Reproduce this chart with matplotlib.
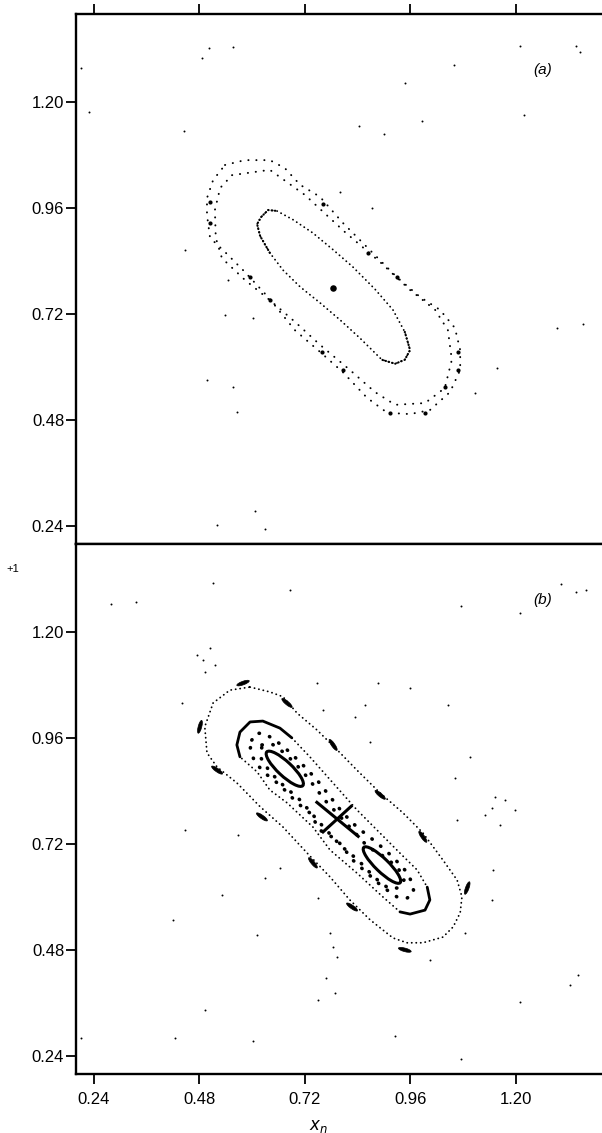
import matplotlib
matplotlib.use("Agg")
import matplotlib.pyplot as plt
from matplotlib.patches import Ellipse

plt.rcParams["font.family"] = ["Liberation Sans", "DejaVu Sans"]

ticks = [0.24, 0.48, 0.72, 0.96, 1.20]
tick_labels = ["0.24", "0.48", "0.72", "0.96", "1.20"]

# ---- panel (a) ----
# central fixed point
a_center_x = [0.785]
a_center_y = [0.780]

# inner invariant curve
a_inner_x = [0.637, 0.657, 0.694, 0.739, 0.785, 0.830, 0.880, 0.921, 0.948, 0.960, 0.948,
             0.926, 0.896, 0.846, 0.801, 0.755, 0.710, 0.671, 0.641, 0.619, 0.612, 0.621, 0.637]
a_inner_y = [0.956, 0.954, 0.934, 0.904, 0.866, 0.827, 0.777, 0.730, 0.680, 0.639, 0.617,
             0.608, 0.617, 0.666, 0.707, 0.746, 0.782, 0.820, 0.859, 0.897, 0.924, 0.940, 0.956]
# darker arcs at the two ends of the inner curve
a_cap1_x = [0.641, 0.619, 0.612, 0.621, 0.637, 0.657]
a_cap1_y = [0.859, 0.897, 0.924, 0.940, 0.956, 0.954]
a_cap2_x = [0.948, 0.960, 0.948, 0.926, 0.896]
a_cap2_y = [0.680, 0.639, 0.617, 0.608, 0.617]

# outer island chain (two rows of dots)
a_outer_x = [0.539, 0.584, 0.641, 0.675, 0.710, 0.755, 0.807, 0.862, 0.930, 0.983, 1.028,
             1.062, 1.074, 1.074, 1.051, 1.005, 0.960, 0.908, 0.862, 0.807, 0.755, 0.698,
             0.637, 0.584, 0.539, 0.505, 0.498, 0.498, 0.512, 0.539]
a_outer_y = [1.058, 1.069, 1.069, 1.051, 1.013, 0.986, 0.927, 0.872, 0.804, 0.759, 0.730,
             0.689, 0.639, 0.594, 0.544, 0.503, 0.494, 0.497, 0.531, 0.589, 0.635, 0.684,
             0.759, 0.816, 0.861, 0.893, 0.945, 0.983, 1.024, 1.058]
a_row2_x = [0.555, 0.641, 0.721, 0.812, 0.892, 0.960, 1.017, 1.046, 1.055, 1.039, 0.994,
            0.926, 0.880, 0.823, 0.755, 0.698, 0.641, 0.584, 0.532, 0.518, 0.516, 0.528, 0.555]
a_row2_y = [1.035, 1.047, 0.990, 0.906, 0.838, 0.775, 0.730, 0.684, 0.617, 0.553, 0.519,
            0.515, 0.544, 0.594, 0.651, 0.703, 0.752, 0.798, 0.847, 0.893, 0.956, 1.006, 1.035]
a_blob_x = [0.505, 0.505, 0.596, 0.641, 0.762, 0.864, 0.930, 0.760, 0.807, 0.914, 0.994,
            1.069, 1.069, 1.039]
a_blob_y = [0.974, 0.927, 0.805, 0.752, 0.970, 0.859, 0.804, 0.635, 0.594, 0.497, 0.497,
            0.635, 0.594, 0.555]

# scattered chaotic points
a_scat_x = [0.503, 0.487, 0.557, 1.060, 0.948, 1.210, 1.337, 1.347, 0.211, 0.230, 0.844,
            0.987, 1.219, 0.446, 0.901, 0.801, 0.873, 0.448, 0.546, 0.539, 0.603, 0.498,
            0.557, 0.566, 1.108, 1.158, 1.294, 1.353, 0.607, 0.521, 0.630]
a_scat_y = [1.323, 1.300, 1.325, 1.284, 1.244, 1.327, 1.327, 1.314, 1.278, 1.178, 1.146,
            1.158, 1.171, 1.135, 1.128, 0.997, 0.961, 0.866, 0.798, 0.718, 0.712, 0.571,
            0.555, 0.499, 0.542, 0.598, 0.689, 0.698, 0.275, 0.243, 0.234]

# ---- panel (b) ----
b_outer_x = [0.596, 0.641, 0.671, 0.703, 0.748, 0.794, 0.839, 0.892, 0.944, 0.989, 1.035,
             1.067, 1.078, 1.074, 1.058, 1.035, 0.989, 0.953, 0.921, 0.869, 0.823, 0.778,
             0.726, 0.671, 0.619, 0.566, 0.521, 0.498, 0.493, 0.512, 0.550, 0.596]
b_outer_y = [1.076, 1.065, 1.054, 1.017, 0.979, 0.934, 0.888, 0.836, 0.791, 0.746, 0.684,
             0.639, 0.601, 0.565, 0.533, 0.510, 0.497, 0.497, 0.508, 0.549, 0.594, 0.646,
             0.700, 0.759, 0.805, 0.859, 0.895, 0.927, 0.986, 1.040, 1.069, 1.076]

# second curve: solid caps, dotted sides
b_cap1_x = [0.573, 0.566, 0.573, 0.596, 0.625, 0.664, 0.691]
b_cap1_y = [0.918, 0.945, 0.974, 0.997, 0.999, 0.983, 0.961]
b_side1_x = [0.691, 0.732, 0.789, 0.839, 0.885, 0.937, 0.976, 0.999]
b_side1_y = [0.961, 0.918, 0.854, 0.798, 0.752, 0.700, 0.662, 0.623]
b_cap2_x = [0.999, 1.005, 0.994, 0.960, 0.937]
b_cap2_y = [0.623, 0.594, 0.571, 0.562, 0.567]
b_side2_x = [0.937, 0.898, 0.839, 0.778, 0.739, 0.680, 0.641, 0.612, 0.573]
b_side2_y = [0.567, 0.601, 0.655, 0.707, 0.759, 0.814, 0.843, 0.884, 0.918]

# rings of heavy dots around the two islands
b_ring3_x = [0.600, 0.610, 0.630, 0.653, 0.680, 0.710, 0.748, 0.807, 0.839, 0.885, 0.921,
             0.948, 0.964, 0.969, 0.953, 0.930, 0.898, 0.862, 0.830, 0.794, 0.755, 0.732,
             0.703, 0.664, 0.630, 0.607, 0.596, 0.600]
b_ring3_y = [0.956, 0.972, 0.970, 0.956, 0.934, 0.906, 0.866, 0.791, 0.759, 0.723, 0.691,
             0.662, 0.635, 0.610, 0.598, 0.601, 0.623, 0.655, 0.684, 0.730, 0.752, 0.791,
             0.814, 0.854, 0.881, 0.906, 0.934, 0.956]
b_ring4_x = [0.623, 0.646, 0.671, 0.698, 0.728, 0.766, 0.812, 0.864, 0.903, 0.933, 0.946,
             0.933, 0.910, 0.880, 0.842, 0.801, 0.755, 0.710, 0.671, 0.641, 0.621, 0.623]
b_ring4_y = [0.945, 0.947, 0.929, 0.904, 0.870, 0.820, 0.771, 0.714, 0.691, 0.666, 0.639,
             0.621, 0.621, 0.644, 0.684, 0.718, 0.768, 0.820, 0.854, 0.884, 0.915, 0.945]

# two islands (centre, length, width, angle)
isl_x = [0.675, 0.896]
isl_y = [0.891, 0.673]
isl_len = [0.112, 0.115]
isl_wid = [0.032, 0.030]
isl_ang = [-43, -44]

# X point strokes (narrow cross along the diagonal)
x1_x = [0.748, 0.842]
x1_y = [0.815, 0.738]
x2_x = [0.762, 0.826]
x2_y = [0.748, 0.806]

# outer chain of small islands (dashes)
b_blob_x = [0.580, 0.482, 0.680, 0.785, 0.521, 0.623, 0.739, 0.828, 0.948, 1.090, 0.989, 0.892]
b_blob_y = [1.085, 0.986, 1.040, 0.945, 0.888, 0.782, 0.678, 0.578, 0.481, 0.621, 0.737, 0.832]
b_blob_ang = [20, 75, -40, -55, -35, -35, -50, -35, -15, 70, -55, -40]

b_scat_x = [0.512, 0.687, 0.280, 0.337, 1.303, 1.338, 1.360, 1.076, 0.475, 0.489, 0.505,
            0.516, 0.494, 1.210, 1.130, 1.146, 1.165, 1.199, 1.176, 1.067, 1.153, 1.149,
            1.146, 0.448, 0.569, 0.630, 0.532, 0.421, 0.612, 0.751, 0.778, 0.785, 0.794,
            0.664, 0.748, 0.887, 0.960, 0.835, 0.857, 0.869, 1.046, 1.096, 1.062, 0.762,
            0.441, 0.926, 1.210, 0.789, 0.751, 0.769, 0.493, 1.085, 1.342, 1.324, 1.005,
            0.211, 0.425, 0.603, 1.076]
b_scat_y = [1.312, 1.296, 1.264, 1.269, 1.309, 1.291, 1.296, 1.260, 1.149, 1.138, 1.165,
            1.127, 1.111, 1.244, 0.786, 0.802, 0.764, 0.798, 0.820, 0.775, 0.827, 0.662,
            0.594, 0.752, 0.741, 0.644, 0.605, 0.549, 0.515, 0.598, 0.519, 0.488, 0.465,
            0.666, 1.085, 1.085, 1.074, 1.008, 1.035, 0.952, 1.035, 0.918, 0.870, 1.024,
            1.040, 0.286, 0.363, 0.383, 0.368, 0.417, 0.345, 0.519, 0.424, 0.401, 0.458,
            0.282, 0.282, 0.275, 0.234]

fig = plt.figure(figsize=(6.02, 11.33), dpi=100)
ax_a = fig.add_axes([0.1262, 0.5199, 0.8763, 0.4678])
ax_b = fig.add_axes([0.1262, 0.0521, 0.8763, 0.4678])

fine = dict(color="k", lw=1.3, ls=(0, (0.1, 2.4)), dash_capstyle="round")
sparse = dict(color="k", lw=1.4, ls=(0, (0.1, 4.0)), dash_capstyle="round")
heavy = dict(color="k", lw=2.6, ls=(0, (0.1, 3.0)), dash_capstyle="round")

# panel (a)
ax_a.plot(a_inner_x, a_inner_y, **fine)
ax_a.plot(a_cap1_x, a_cap1_y, color="k", lw=1.6, ls=(0, (0.1, 1.4)), dash_capstyle="round")
ax_a.plot(a_cap2_x, a_cap2_y, color="k", lw=1.6, ls=(0, (0.1, 1.4)), dash_capstyle="round")
ax_a.plot(a_outer_x, a_outer_y, **sparse)
ax_a.plot(a_row2_x, a_row2_y, **sparse)
ax_a.scatter(a_blob_x, a_blob_y, s=9, c="k", lw=0)
ax_a.scatter(a_center_x, a_center_y, s=22, c="k", lw=0)
ax_a.scatter(a_scat_x, a_scat_y, s=2, c="k", lw=0)
ax_a.text(1.262, 1.273, "(a)", fontsize=11, style="italic", ha="center", va="center")

# panel (b)
ax_b.plot(b_outer_x, b_outer_y, **fine)
ax_b.plot(b_cap1_x, b_cap1_y, color="k", lw=2.0, solid_capstyle="round")
ax_b.plot(b_cap2_x, b_cap2_y, color="k", lw=2.0, solid_capstyle="round")
ax_b.plot(b_side1_x, b_side1_y, **fine)
ax_b.plot(b_side2_x, b_side2_y, **fine)
ax_b.plot(b_ring3_x, b_ring3_y, **heavy)
ax_b.plot(b_ring4_x, b_ring4_y, **heavy)
for cx, cy, L, W, ang in zip(isl_x, isl_y, isl_len, isl_wid, isl_ang):
    ax_b.add_patch(Ellipse((cx, cy), L, W, angle=ang, fill=False, ec="k", lw=2.2))
ax_b.plot(x1_x, x1_y, color="k", lw=2.2)
ax_b.plot(x2_x, x2_y, color="k", lw=2.2)
for cx, cy, ang in zip(b_blob_x, b_blob_y, b_blob_ang):
    ax_b.add_patch(Ellipse((cx, cy), 0.030, 0.008, angle=ang, fc="k", ec="k", lw=0.5))
ax_b.scatter(b_scat_x, b_scat_y, s=2, c="k", lw=0)
ax_b.text(1.262, 1.273, "(b)", fontsize=11, style="italic", ha="center", va="center")

for ax in (ax_a, ax_b):
    ax.set_xlim(0.20, 1.40)
    ax.set_ylim(0.20, 1.40)
    ax.set_xticks(ticks)
    ax.set_yticks(ticks)
    ax.set_yticklabels(tick_labels, fontsize=12)
    ax.spines["right"].set_visible(False)
    for s in ("left", "top", "bottom"):
        ax.spines[s].set_linewidth(1.7)
    ax.tick_params(direction="out", length=7, width=1.3)
    ax.tick_params(axis="y", pad=1.5)

ax_a.tick_params(axis="x", top=True, bottom=True, labelbottom=False)
ax_b.tick_params(axis="x", top=False, bottom=True, pad=6)
ax_b.set_xticklabels(tick_labels, fontsize=12)
ax_b.set_xlabel("$x_n$", fontsize=12)
ax_b.xaxis.set_label_coords(0.46, -0.083)

fig.text(13 / 602, 1 - 569 / 1133, "+1", fontsize=8, ha="center", va="center")

fig.savefig("out.png", dpi=100)
